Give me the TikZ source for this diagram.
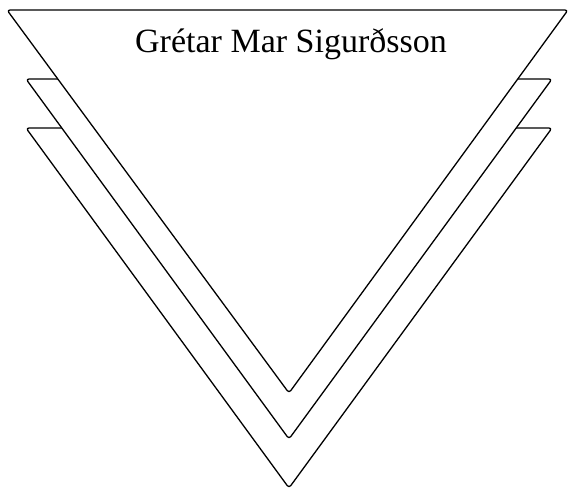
\documentclass[tikz,border=0pt]{standalone}
\usepackage{fontspec}
\setmainfont{Liberation Serif}
\begin{document}
\begin{tikzpicture}[x=1pt,y=-1pt,
  tri/.style={draw=black,fill=white,line width=1.3pt,rounded corners=3pt,line join=round}]
\useasboundingbox (0,0) rectangle (569,490);
% back triangle
\draw[tri] (26,128) -- (552,128) -- (289,488) -- cycle;
% middle triangle
\draw[tri] (26,79) -- (552,79) -- (289,439) -- cycle;
% front triangle
\draw[tri] (7,10) -- (568,10) -- (289,393) -- cycle;
\node[font=\fontsize{34}{40}\selectfont,anchor=base,inner sep=0pt] (title) at (291,52) {Grétar Mar Sigurðsson};
\end{tikzpicture}
\end{document}
